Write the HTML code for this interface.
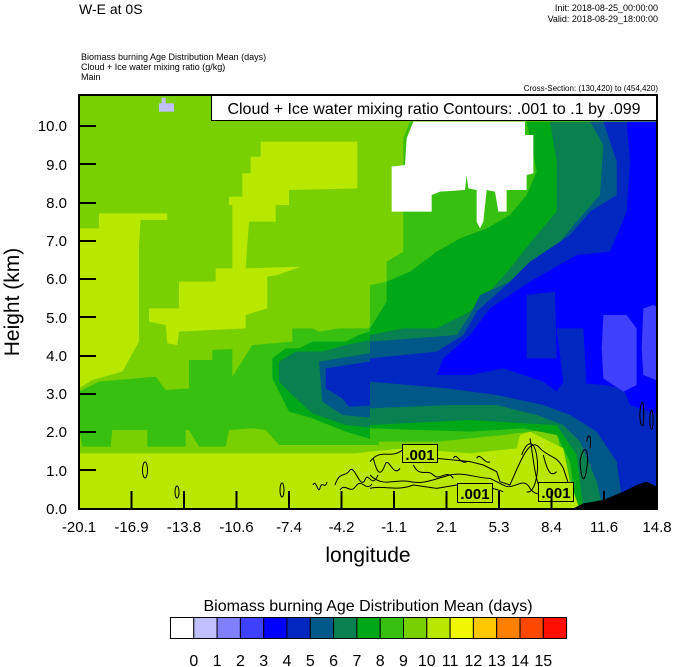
<!DOCTYPE html>
<html><head><meta charset="utf-8"><style>
html,body{margin:0;padding:0;background:#fff;}
svg{display:block;font-family:"Liberation Sans",sans-serif;}
</style></head><body>
<svg width="674" height="667" viewBox="0 0 674 667" xmlns="http://www.w3.org/2000/svg">
<rect width="674" height="667" fill="#fff"/>
<text x="79" y="14" font-size="14">W-E at 0S</text>
<text x="658" y="11" font-size="9" text-anchor="end">Init: 2018-08-25_00:00:00</text>
<text x="658" y="22" font-size="9" text-anchor="end">Valid: 2018-08-29_18:00:00</text>
<text x="81" y="60" font-size="9">Biomass burning Age Distribution Mean    (days)</text>
<text x="81" y="70" font-size="9">Cloud + Ice water mixing ratio    (g/kg)</text>
<text x="81" y="80" font-size="9">Main</text>
<text x="658" y="91" font-size="8" text-anchor="end">Cross-Section: (130,420) to (454,420)</text>

<clipPath id="pc"><rect x="79" y="95" width="578" height="414"/></clipPath>
<g clip-path="url(#pc)">
<rect x="79" y="95" width="578" height="414" fill="#78d000"/>
<g transform="translate(79,95) scale(0.33333)">
<polygon fill="#b8e800" points="0,400 60,400 60,355 265,355 265,375 185,375 180,450 180,740 130,830 40,855 0,880"/>
<polygon fill="#b8e800" points="450,305 490,305 490,235 515,235 515,185 545,185 545,140 835,140 835,280 630,285 630,330 590,330 590,380 510,380 500,520 665,515 595,540 565,545 565,640 500,660 500,700 300,710 295,750 265,745 260,690 210,680 210,640 300,640 300,560 410,560 410,520 460,520 460,330 450,330"/>
<polygon fill="#38c010" points="0,890 60,860 230,845 260,885 330,880 330,795 400,795 400,765 460,762 460,845 520,750 640,740 640,700 700,700 720,710 780,700 870,700 880,660 900,660 900,1050 600,1050 560,1005 520,1000 450,1005 440,1055 360,1055 330,1005 320,1005 320,1055 205,1055 205,1005 100,1005 95,1055 10,1055 0,1000"/>
<polygon fill="#00a818" points="580,790 620,760 660,760 700,740 800,740 840,720 900,700 900,1040 800,1010 700,970 630,950 580,850"/>
<polygon fill="#088050" points="600,800 650,770 730,770 800,750 900,730 900,1000 800,990 700,955 640,900 600,860"/>
<polygon fill="#005888" points="720,800 900,770 900,970 790,960 730,920"/>
<polygon fill="#0028c0" points="740,820 870,800 900,785 900,930 810,935 790,910 740,880"/>
<polygon fill="#b8e800" points="0,1075 830,1075 870,1070 900,1070 900,1245 0,1245"/>
<rect x="240" y="25" width="45" height="25" fill="#c0c0ff"/>
<rect x="248" y="8" width="12" height="20" fill="#c0c0ff"/>
</g>
<g transform="translate(370,95) scale(0.33333)">
<polygon fill="#38c010" points="120,80 870,80 870,1245 600,1245 560,1000 480,1010 400,1020 300,1030 200,1040 0,1040 0,570 50,560 50,500 100,470 100,130"/>
<polygon fill="#00a818" points="470,80 870,80 870,1245 620,1245 600,1100 560,1020 460,1000 300,1010 0,1000 0,700 50,620 50,560 120,530 200,470 270,430 350,400 420,360 470,300 500,230"/>
<polygon fill="#088050" points="540,80 870,80 870,1245 640,1245 620,1080 560,990 460,985 300,975 0,990 0,720 100,700 200,700 300,650 350,600 420,520 500,420 560,350 560,200"/>
<polygon fill="#005888" points="660,80 870,80 870,1245 700,1245 680,1160 630,1040 580,990 500,960 380,930 240,930 0,940 0,740 260,720 300,660 330,600 420,560 520,500 620,380 690,300 700,150"/>
<polygon fill="#0028c0" points="700,80 870,80 870,1245 760,1245 740,1100 680,1010 600,960 520,930 380,900 230,880 0,860 0,790 200,770 280,720 320,650 420,560 480,500 600,420 660,350 740,300 740,200"/>
<polygon fill="#0000ff" points="770,80 870,80 870,960 780,930 760,880 700,870 580,860 560,890 520,860 400,820 300,840 200,840 220,790 300,720 360,640 480,560 620,480 720,470 770,350 780,200"/>
<polygon fill="#0028c0" points="470,600 555,590 560,790 470,790"/>
<polygon fill="#0028c0" points="560,700 640,700 650,880 580,860"/>
<polygon fill="#4040ff" points="700,660 770,660 800,700 800,870 760,890 700,850 695,760"/>
<polygon fill="#4040ff" points="820,640 850,630 870,640 870,860 820,840 815,760"/>
<polygon fill="#fff" points="130,80 465,80 465,120 490,120 490,235 470,240 470,285 410,285 410,350 385,350 375,290 350,285 340,380 330,400 320,380 320,285 295,280 290,240 285,285 210,290 185,300 185,350 65,350 65,215 105,210 110,130"/>
<polygon fill="#b8e800" points="0,1070 100,1060 300,1075 440,1060 450,1020 480,1010 540,1040 580,1060 600,1160 630,1245 0,1245"/>
<polygon fill="#000" points="600,1245 640,1225 700,1215 760,1190 800,1170 830,1160 870,1180 870,1245"/>
<g fill="none" stroke="#000" stroke-width="3">
<path d="M0,1100 C30,1060 60,1090 90,1070 C120,1050 160,1080 200,1090 L300,1100 L340,1110 L380,1130 L390,1160 L420,1170 C450,1100 480,1020 510,1060 C540,1090 560,1080 580,1120 L600,1180"/>
<path d="M0,1140 C40,1180 80,1150 120,1160 C160,1170 200,1150 240,1140 C280,1130 320,1150 360,1150 L400,1170 C430,1190 460,1140 480,1180 C500,1210 530,1190 550,1200"/>
<path d="M0,1180 C40,1170 80,1190 130,1170 L200,1180 L260,1170 C300,1160 340,1170 400,1190"/>
<path d="M10,1090 C20,1130 30,1150 45,1110 C55,1080 70,1150 90,1120"/>
<path d="M130,1110 C150,1150 170,1120 190,1140 C210,1160 230,1120 250,1150"/>
<path d="M250,1090 C260,1070 270,1110 290,1100 M320,1090 C330,1070 345,1110 360,1100"/>
<path d="M455,1080 C470,1040 490,1030 500,1080 C510,1140 490,1200 470,1190"/>
<path d="M480,1030 C490,1090 495,1150 510,1180 M520,1080 C530,1120 540,1150 560,1130"/>
<path d="M630,1100 C640,1040 660,1060 650,1120 C645,1160 635,1170 630,1100"/>
<path d="M650,1040 C655,1010 665,1020 660,1060"/>
<path d="M810,950 C815,900 825,920 820,990 C815,1000 808,980 810,950"/>
<path d="M840,960 C845,930 852,950 848,1000 C842,1010 838,990 840,960"/>
</g>
</g>
<g fill="none" stroke="#000" stroke-width="1">
<ellipse cx="145" cy="470" rx="2.5" ry="8"/>
<ellipse cx="177" cy="492" rx="2" ry="6"/>
<ellipse cx="282" cy="490" rx="2" ry="7"/>
<path d="M313,485 C316,478 318,495 320,488 C322,480 325,490 327,482"/>
<path d="M335,485 C340,470 345,478 350,470 C355,465 360,490 365,480 C368,470 372,490 378,475"/>
<path d="M340,490 C345,482 350,495 356,486 C362,478 366,492 372,484"/>
</g>
</g>
<g fill="#fff" stroke="#000" stroke-width="1">
<rect x="402.5" y="444.5" width="35" height="18" fill="#b8e800"/>
<rect x="457.5" y="483.5" width="35" height="19" fill="#b8e800"/>
<rect x="538.5" y="482.5" width="35" height="19" fill="#b8e800"/>
</g>
<g font-size="15" font-weight="bold" text-anchor="middle">
<text x="420" y="460">.001</text><text x="475" y="499">.001</text><text x="556" y="498">.001</text>
</g>
<rect x="211.5" y="95.5" width="446" height="25" fill="#fff" stroke="#000"/>
<text x="434" y="114" font-size="16" text-anchor="middle">Cloud + Ice water mixing ratio Contours: .001 to .1 by .099</text>
<rect x="79" y="95" width="578" height="414" fill="none" stroke="#000" stroke-width="2"/>
<g stroke="#000" stroke-width="2">
<line x1="79" y1="470" x2="96" y2="470"/><line x1="79" y1="432" x2="96" y2="432"/><line x1="79" y1="394" x2="96" y2="394"/><line x1="79" y1="356" x2="96" y2="356"/><line x1="79" y1="317" x2="96" y2="317"/><line x1="79" y1="279" x2="96" y2="279"/><line x1="79" y1="241" x2="96" y2="241"/><line x1="79" y1="203" x2="96" y2="203"/><line x1="79" y1="164" x2="96" y2="164"/><line x1="79" y1="126" x2="96" y2="126"/>
<line x1="131.5" y1="509" x2="131.5" y2="491"/><line x1="184" y1="509" x2="184" y2="491"/><line x1="236.5" y1="509" x2="236.5" y2="491"/><line x1="289" y1="509" x2="289" y2="491"/><line x1="341.5" y1="509" x2="341.5" y2="491"/><line x1="394" y1="509" x2="394" y2="491"/><line x1="446.5" y1="509" x2="446.5" y2="491"/><line x1="499" y1="509" x2="499" y2="491"/><line x1="551.5" y1="509" x2="551.5" y2="491"/><line x1="604" y1="509" x2="604" y2="491"/>
</g>
<g font-size="15" text-anchor="end">
<text x="67" y="514">0.0</text><text x="67" y="476">1.0</text><text x="67" y="437">2.0</text><text x="67" y="399">3.0</text><text x="67" y="361">4.0</text><text x="67" y="323">5.0</text><text x="67" y="284">6.0</text><text x="67" y="246">7.0</text><text x="67" y="208">8.0</text><text x="67" y="170">9.0</text><text x="67" y="131">10.0</text>
</g>
<g font-size="15" text-anchor="middle">
<text x="79" y="532">-20.1</text><text x="131.5" y="532">-16.9</text><text x="184" y="532">-13.8</text><text x="236.5" y="532">-10.6</text><text x="289" y="532">-7.4</text><text x="341.5" y="532">-4.2</text><text x="394" y="532">-1.1</text><text x="446.5" y="532">2.1</text><text x="499" y="532">5.3</text><text x="551.5" y="532">8.4</text><text x="604" y="532">11.6</text><text x="657" y="532">14.8</text>
</g>
<text x="368" y="562" font-size="21" text-anchor="middle">longitude</text>
<text transform="translate(19,302) rotate(-90)" font-size="21" text-anchor="middle">Height (km)</text>
<text x="368" y="611" font-size="16" text-anchor="middle">Biomass burning Age Distribution Mean  (days)</text>
<g stroke="#000" stroke-width="1">
<rect x="170.5" y="617.5" width="23.3" height="21" fill="#fff"/>
<rect x="193.8" y="617.5" width="23.3" height="21" fill="#c0c0ff"/>
<rect x="217.1" y="617.5" width="23.3" height="21" fill="#8080ff"/>
<rect x="240.4" y="617.5" width="23.3" height="21" fill="#4040ff"/>
<rect x="263.7" y="617.5" width="23.3" height="21" fill="#0000ff"/>
<rect x="287" y="617.5" width="23.3" height="21" fill="#0028c0"/>
<rect x="310.3" y="617.5" width="23.3" height="21" fill="#005888"/>
<rect x="333.6" y="617.5" width="23.3" height="21" fill="#088050"/>
<rect x="356.9" y="617.5" width="23.3" height="21" fill="#00a818"/>
<rect x="380.2" y="617.5" width="23.3" height="21" fill="#38c010"/>
<rect x="403.5" y="617.5" width="23.3" height="21" fill="#78d000"/>
<rect x="426.8" y="617.5" width="23.3" height="21" fill="#b8e800"/>
<rect x="450.1" y="617.5" width="23.3" height="21" fill="#f0f800"/>
<rect x="473.4" y="617.5" width="23.3" height="21" fill="#ffc800"/>
<rect x="496.7" y="617.5" width="23.3" height="21" fill="#ff8000"/>
<rect x="520" y="617.5" width="23.3" height="21" fill="#ff4800"/>
<rect x="543.3" y="617.5" width="23.3" height="21" fill="#ff1000"/>
</g>
<g font-size="16" text-anchor="middle">
<text x="193.8" y="666">0</text><text x="217.1" y="666">1</text><text x="240.4" y="666">2</text><text x="263.7" y="666">3</text><text x="287" y="666">4</text><text x="310.3" y="666">5</text><text x="333.6" y="666">6</text><text x="356.9" y="666">7</text><text x="380.2" y="666">8</text><text x="403.5" y="666">9</text><text x="426.8" y="666">10</text><text x="450.1" y="666">11</text><text x="473.4" y="666">12</text><text x="496.7" y="666">13</text><text x="520" y="666">14</text><text x="543.3" y="666">15</text>
</g>
</svg>
</body></html>
